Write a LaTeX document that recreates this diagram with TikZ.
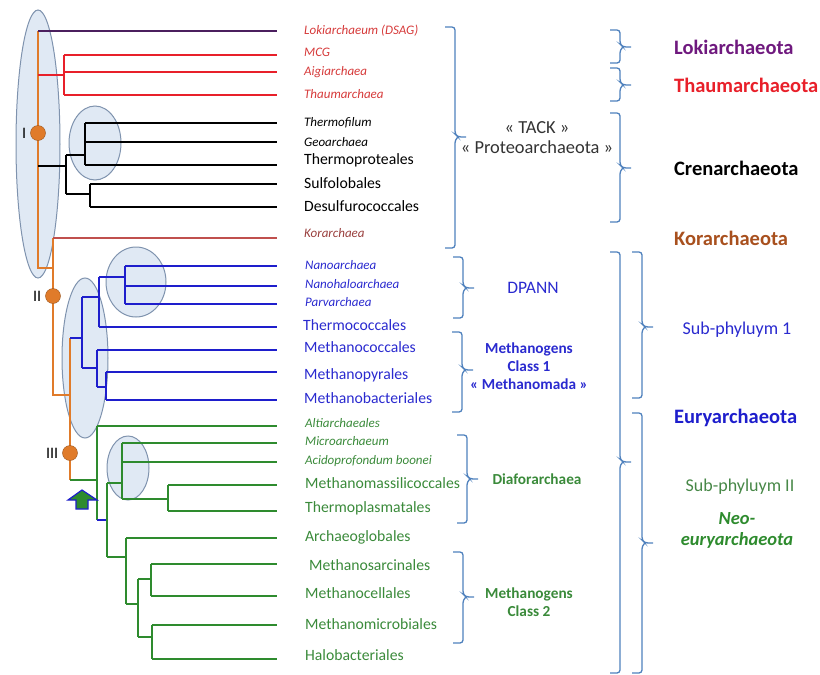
\documentclass[tikz,border=0pt]{standalone}
\usepackage{fontspec}
\setmainfont{Carlito}
\definecolor{lokilila}{HTML}{4B1F5E}
\definecolor{thaumrot}{HTML}{E8202A}
\definecolor{korbraun}{HTML}{C0504D}
\definecolor{stammorange}{HTML}{E07B2A}
\definecolor{euryblau}{HTML}{1E1ECC}
\definecolor{neogruen}{HTML}{2E8B2E}
\definecolor{klammerblau}{HTML}{4F81BD}
\definecolor{ovalfill}{HTML}{D5E1F0}
\definecolor{ovalrand}{HTML}{7F93AE}
\definecolor{textrot}{HTML}{D63A3A}
\definecolor{textblau}{HTML}{2A2ACF}
\definecolor{textgruen}{HTML}{3A8A3A}
\definecolor{textbraun}{HTML}{A8501E}
\tikzset{klammerlinie/.style={draw=klammerblau, line width=1.3pt, rounded corners=3pt}}
\newcommand{\klammer}[4]{%
	\draw[klammerlinie] (#1-10,#2) -- (#1,#2) -- (#1,#4-3) -- (#1+3,#4) -- (#1+11,#4)
		(#1+3,#4) -- (#1,#4+3) -- (#1,#3) -- (#1-10,#3);}
\begin{document}
\begin{tikzpicture}[x=1pt, y=-1pt, line width=1.6pt,
	oval/.style={draw=ovalrand, fill=ovalfill, fill opacity=.75, line width=1pt},
	knoten/.style={circle, fill=stammorange, draw=stammorange!70!black, line width=.4pt, minimum size=15pt, inner sep=0pt},
	klein/.style={anchor=west, font=\fontsize{13}{14}\selectfont\itshape},
	gross/.style={anchor=west, font=\fontsize{15.7}{17}\selectfont},
	gruppe/.style={font=\fontsize{15.3}{18}\selectfont\bfseries, align=center},
	phylum/.style={anchor=west, font=\fontsize{20.5}{22}\selectfont\bfseries}]
	\useasboundingbox (0,0) rectangle (820,675);
	% ovale
	\draw[oval] (38,144)  ellipse (22 and 134);
	\draw[oval] (95,143)  ellipse (26 and 37);
	\draw[oval] (136,282) ellipse (30 and 35);
	\draw[oval] (85,358)  ellipse (23 and 80);
	\draw[oval] (128,468) ellipse (21 and 32);
	% stamm
	\draw[stammorange] (38,31) -- (38,268) -- (53,268);
	\draw[stammorange] (53,238) -- (53,395) -- (70,395);
	\draw[stammorange] (70,338) -- (70,480);
	\draw[lokilila]    (38,31)  -- (277,31);
	\draw[thaumrot]    (38,75)  -- (64,75);
	\draw[thaumrot]    (64,55)  -- (64,95);
	\draw[thaumrot]    (64,55)  -- (277,55);
	\draw[thaumrot]    (64,72)  -- (277,72);
	\draw[thaumrot]    (64,95)  -- (277,95);
	\draw[black]       (38,166) -- (66,166);
	\draw[black]       (66,155) -- (66,194);
	\draw[black]       (66,155) -- (85,155);
	\draw[black]       (85,123) -- (85,165);
	\draw[black]       (85,123) -- (277,123);
	\draw[black]       (85,142) -- (277,142);
	\draw[black]       (85,165) -- (277,165);
	\draw[black]       (66,194) -- (90,194);
	\draw[black]       (90,184) -- (90,207);
	\draw[black]       (90,184) -- (277,184);
	\draw[black]       (90,207) -- (277,207);
	\draw[korbraun]    (53,238) -- (277,238);
	% euryarchaeota
	\draw[euryblau]    (70,338)  -- (82,338);
	\draw[euryblau]    (82,297)  -- (82,368);
	\draw[euryblau]    (82,297)  -- (99,297);
	\draw[euryblau]    (99,277)  -- (99,327);
	\draw[euryblau]    (99,277)  -- (125,277);
	\draw[euryblau]    (125,266) -- (125,304);
	\draw[euryblau]    (125,266) -- (277,266);
	\draw[euryblau]    (125,286) -- (277,286);
	\draw[euryblau]    (125,304) -- (277,304);
	\draw[euryblau]    (99,327)  -- (277,327);
	\draw[euryblau]    (82,368)  -- (97,368);
	\draw[euryblau]    (97,350)  -- (97,387);
	\draw[euryblau]    (97,350)  -- (277,350);
	\draw[euryblau]    (97,387)  -- (106,387);
	\draw[euryblau]    (106,372) -- (106,400);
	\draw[euryblau]    (106,372) -- (277,372);
	\draw[euryblau]    (106,400) -- (277,400);
	\draw[neogruen]    (70,480)  -- (97,480);
	\draw[neogruen]    (97,426)  -- (97,520);
	\draw[neogruen]    (97,426)  -- (277,426);
	\draw[euryblau]    (97,520)  -- (107,520);
	\draw[neogruen]    (107,483) -- (107,557);
	\draw[neogruen]    (107,483) -- (122,483);
	\draw[neogruen]    (122,443) -- (122,499);
	\draw[neogruen]    (122,443) -- (277,443);
	\draw[neogruen]    (122,462) -- (277,462);
	\draw[neogruen]    (122,499) -- (168,499);
	\draw[neogruen]    (168,485) -- (168,511);
	\draw[neogruen]    (168,485) -- (277,485);
	\draw[neogruen]    (168,511) -- (277,511);
	\draw[neogruen]    (107,557) -- (126,557);
	\draw[neogruen]    (126,538) -- (126,604);
	\draw[neogruen]    (126,538) -- (277,538);
	\draw[neogruen]    (126,604) -- (138,604);
	\draw[neogruen]    (138,579) -- (138,637);
	\draw[neogruen]    (138,579) -- (151,579);
	\draw[neogruen]    (151,564) -- (151,596);
	\draw[neogruen]    (151,564) -- (277,564);
	\draw[neogruen]    (151,596) -- (277,596);
	\draw[neogruen]    (138,637) -- (152,637);
	\draw[neogruen]    (152,625) -- (152,659);
	\draw[neogruen]    (152,625) -- (277,625);
	\draw[neogruen]    (152,659) -- (277,659);
	% pfeil
	\draw[euryblau, fill=neogruen, line width=1.2pt] (68,500) -- (82,490) -- (97,500) -- (88,500) -- (88,509) -- (76,509) -- (76,500) -- cycle;
	% knoten I-III
	\node[knoten] (k1) at (38,133) {};
	\node[knoten] (k2) at (53,296) {};
	\node[knoten] (k3) at (70,453) {};
	\node[anchor=east, font=\fontsize{16}{17}\selectfont] at (k1.west) {I};
	\node[anchor=east, font=\fontsize{16}{17}\selectfont] at (k2.west) {II};
	\node[anchor=east, font=\fontsize{16}{17}\selectfont] at (k3.west) {III};
	% taxa
	\node[klein, textrot]   (loki)  at (300,31)  {Lokiarchaeum (DSAG)};
	\node[klein, textrot]   (mcg)   at (300,52)  {MCG};
	\node[klein, textrot]   (aigi)  at (300,72)  {Aigiarchaea};
	\node[klein, textrot]   (thaum) at (300,94)  {Thaumarchaea};
	\node[klein]            (tfil)  at (300,123) {Thermofilum};
	\node[klein]            (geo)   at (300,142) {Geoarchaea};
	\node[gross]            (tprot) at (300,160) {Thermoproteales};
	\node[gross]            (sulfo) at (300,183) {Sulfolobales};
	\node[gross]            (desu)  at (300,206) {Desulfurococcales};
	\node[klein, korbraun!80!black] (kor) at (300,233) {Korarchaea};
	\node[klein, textblau]  (nano)  at (301,265) {Nanoarchaea};
	\node[klein, textblau]  (nhalo) at (301,284) {Nanohaloarchaea};
	\node[klein, textblau]  (parv)  at (301,302) {Parvarchaea};
	\node[gross, textblau]  (tcoc)  at (299,325) {Thermococcales};
	\node[gross, textblau]  (mcoc)  at (300,347) {Methanococcales};
	\node[gross, textblau]  (mpyr)  at (300,375) {Methanopyrales};
	\node[gross, textblau]  (mbac)  at (300,398) {Methanobacteriales};
	\node[klein, textgruen] (alti)  at (301,423) {Altiarchaeales};
	\node[klein, textgruen] (micro) at (301,441) {Microarchaeum};
	\node[klein, textgruen] (acido) at (301,461) {Acidoprofondum boonei};
	\node[gross, textgruen] (mmas)  at (301,483) {Methanomassilicoccales};
	\node[gross, textgruen] (tpla)  at (301,508) {Thermoplasmatales};
	\node[gross, textgruen] (aglo)  at (301,537) {Archaeoglobales};
	\node[gross, textgruen] (msar)  at (305,565) {Methanosarcinales};
	\node[gross, textgruen] (mcel)  at (301,593) {Methanocellales};
	\node[gross, textgruen] (mmic)  at (301,624) {Methanomicrobiales};
	\node[gross, textgruen] (halo)  at (301,655) {Halobacteriales};
	% klammern
	\klammer{455}{27}{248}{137}
	\klammer{620}{30}{63}{47}
	\klammer{620}{68}{101}{85}
	\klammer{620}{113}{222}{168}
	\klammer{463}{257}{318}{288}
	\klammer{462}{332}{412}{370}
	\klammer{467}{435}{523}{479}
	\klammer{463}{552}{643}{597}
	\klammer{620}{252}{673}{462}
	\klammer{642}{252}{398}{327}
	\klammer{642}{413}{673}{543}
	% gruppen
	\node[font=\fontsize{18.4}{20}\selectfont, text=black!80, align=center] (tack) at (537,138) {« TACK »\\« Proteoarchaeota »};
	\node[font=\fontsize{17.5}{19}\selectfont, textblau] (dpann) at (533,288) {DPANN};
	\node[gruppe, textblau]  (mk1)  at (529,366) {Methanogens\\Class 1\\« Methanomada »};
	\node[gruppe, textgruen] (diaf) at (537,479) {Diaforarchaea};
	\node[gruppe, textgruen] (mk2)  at (529,602) {Methanogens\\Class 2};
	% phyla
	\node[phylum, lokilila!80!magenta] (lokip)  at (670,47)  {Lokiarchaeota};
	\node[phylum, thaumrot]            (thaump) at (670,85)  {Thaumarchaeota};
	\node[phylum, black]               (crenp)  at (670,168) {Crenarchaeota};
	\node[phylum, textbraun]           (korp)   at (670,238) {Korarchaeota};
	\node[phylum, euryblau]            (euryp)  at (670,418) {Euryarchaeota};
	\node[font=\fontsize{18}{20}\selectfont, textblau] (sub1) at (737,330) {Sub-phyluym 1};
	\node[font=\fontsize{18}{20}\selectfont, textgruen!80!gray] (sub2) at (740,487) {Sub-phyluym II};
	\node[font=\fontsize{18.5}{21}\selectfont\bfseries\itshape, neogruen, align=center] (neo) at (737,530) {Neo-\\euryarchaeota};
\end{tikzpicture}
\end{document}
